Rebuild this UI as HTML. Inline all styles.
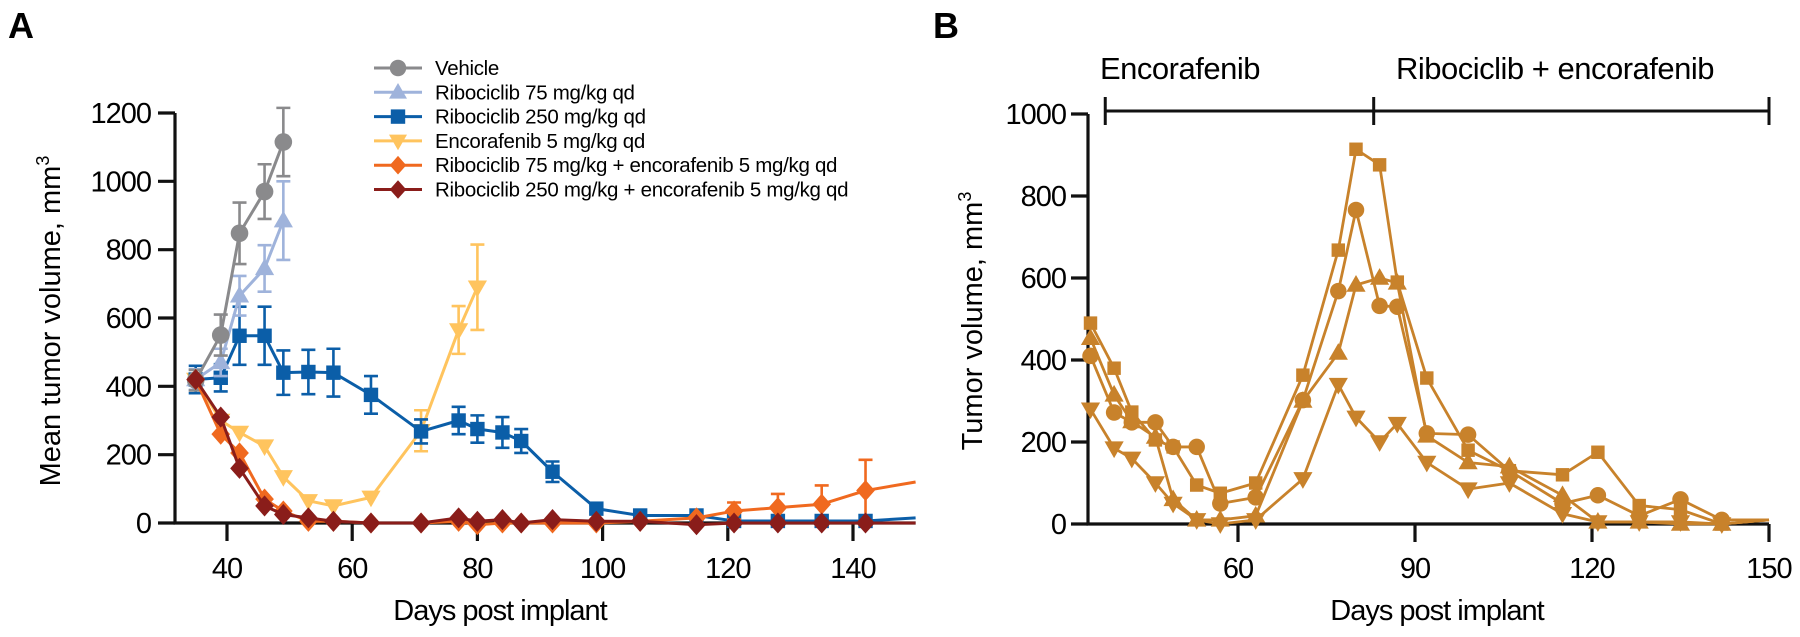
<!DOCTYPE html>
<html><head><meta charset="utf-8"><style>
html,body{margin:0;padding:0;background:#fff;}
svg{display:block;font-family:"Liberation Sans",sans-serif;}
</style></head><body>
<svg id="c" width="1800" height="637" viewBox="0 0 1800 637" xmlns="http://www.w3.org/2000/svg"></svg>
<script>
// Panel A data
const daysA = [35,39,42,46,49,53,57,63,71,77,80,84,87,92,99,106,115,121,128,135,142,150];
const vehicleDays = [35,39,42,46,49];
const vehicleVals = [418,550,848,970,1115];
const vehicleErr = [30,60,90,80,100];
const ribo75Days = [35,39,42,46,49];
const ribo75Vals = [420,470,665,745,885];
const ribo75Err = [30,40,58,68,115];
const ribo250Days = [35,39,42,46,49,53,57,63,71,77,80,84,87,92,99,106,115,121,128,135,142,150];
const ribo250Vals = [420,425,548,548,440,442,440,375,268,300,275,265,240,150,42,22,22,6,6,6,6,15];
const ribo250Err = [40,40,85,85,65,65,70,55,35,40,40,45,35,30,10,0,0,0,0,0,0,0];
const encoDays = [35,39,42,46,49,53,57,63,71,77,80];
const encoVals = [420,300,265,225,135,65,50,75,270,565,690];
const encoErr = [0,0,0,0,0,0,0,0,60,70,125];
const comboLowDays = daysA;
const comboLowVals = [420,260,205,70,35,5,5,0,0,5,-5,0,0,0,0,5,15,35,45,55,95,120];
const comboLowErr = [0,0,0,0,0,0,0,0,0,0,0,0,0,0,0,0,0,25,40,55,90,0];
const comboHighDays = daysA;
const comboHighVals = [420,310,160,50,25,15,5,0,0,15,5,10,0,10,5,5,-5,0,0,0,0,0];
const yTicksA = [0,200,400,600,800,1000,1200];
const xTicksA = [40,60,80,100,120,140];
const legendLabels = ["Vehicle","Ribociclib 75 mg/kg qd","Ribociclib 250 mg/kg qd","Encorafenib 5 mg/kg qd","Ribociclib 75 mg/kg + encorafenib 5 mg/kg qd","Ribociclib 250 mg/kg + encorafenib 5 mg/kg qd"];
// Panel B data
const daysB = [35,39,42,46,49,53,57,63,71,77,80,84,87,92,99,106,115,121,128,135,142,150];
const mouseCircle = [410,272,248,248,188,188,50,65,302,568,766,532,530,221,218,130,50,70,20,60,10,10];
const mouseSquare = [490,380,273,205,188,95,75,100,363,668,914,876,590,356,180,130,120,175,45,35,0,10];
const mouseTriangle = [453,315,250,212,60,10,10,20,300,417,583,600,588,215,150,140,70,5,5,0,0,10];
const mouseDown = [280,185,160,100,50,10,0,10,110,340,260,200,245,150,85,100,25,5,5,5,0,10];
const yTicksB = [0,200,400,600,800,1000];
const xTicksB = [60,90,120,150];
const phaseLabels = ["Encorafenib","Ribociclib + encorafenib"];
const phaseDays = [37.5,83,150];

const svg = document.getElementById('c');
const NS = 'http://www.w3.org/2000/svg';
function mk(tag, attrs, parent){const e=document.createElementNS(NS,tag);for(const k in attrs)e.setAttribute(k,attrs[k]);(parent||svg).appendChild(e);return e;}

const xA = d => 227 + (d-40)*6.26;
const yA = v => 523 - v*(410/1200);
const xB = d => 1238 + (d-60)*5.9;
const yB = v => 524 - v*0.41;

function marker(g, shape, x, y, color, s){
  let e;
  if(shape==='circle'){e=mk('circle',{cx:x,cy:y,r:s*0.55,fill:color},g);}
  else if(shape==='square'){e=mk('rect',{x:x-s*0.48,y:y-s*0.48,width:s*0.96,height:s*0.96,fill:color},g);}
  else if(shape==='tri'){e=mk('polygon',{points:`${x},${y-s*0.62} ${x-s*0.6},${y+s*0.42} ${x+s*0.6},${y+s*0.42}`,fill:color},g);}
  else if(shape==='down'){e=mk('polygon',{points:`${x},${y+s*0.62} ${x-s*0.6},${y-s*0.42} ${x+s*0.6},${y-s*0.42}`,fill:color},g);}
  else {e=mk('polygon',{points:`${x},${y-s*0.62} ${x+s*0.55},${y} ${x},${y+s*0.62} ${x-s*0.55},${y}`,fill:color},g);}
  
  
}
function series(name, days, vals, errs, xs, ys, color, shape, size, lw){
  const g = mk('g',{});
  
  
  if(errs){
    days.forEach((d,i)=>{ if(errs[i]>0){
      const x=xs(d), y1=ys(vals[i]-errs[i]), y2=ys(vals[i]+errs[i]);
      const eb=mk('path',{d:`M${x},${y1}V${y2}M${x-7},${y1}H${x+7}M${x-7},${y2}H${x+7}`,stroke:color,'stroke-width':2.6,fill:'none'},g);
      
      
    }});
  }
  const pts = days.map((d,i)=>xs(d)+','+ys(vals[i])).join(' ');
  mk('polyline',{points:pts,fill:'none',stroke:color,'stroke-width':lw,'stroke-linejoin':'round'},g);
  days.forEach((d,i)=>{ if(d<150) marker(g,shape,xs(d),ys(vals[i]),color,size); });
}
function txt(s, attrs, name){const t=mk('text',attrs);t.textContent=s;return t;}

txt('A',{x:8,y:38,'font-size':36,'font-weight':'bold'},'panel-label-a');
txt('B',{x:933,y:38,'font-size':36,'font-weight':'bold'},'panel-label-b');

const axA = mk('g',{stroke:'#111','stroke-width':3.2,fill:'none'});


mk('path',{d:`M175,${yA(1200)}V${yA(0)}H${xA(150)}`},axA);
yTicksA.forEach(v=>{
  mk('line',{x1:158,x2:175,y1:yA(v),y2:yA(v)},axA);
  txt(String(v),{x:151,y:yA(v)+10,'font-size':29,'text-anchor':'end','letter-spacing':-1},'y-tick-label-a');
});
xTicksA.forEach(d=>{
  mk('line',{x1:xA(d),x2:xA(d),y1:523,y2:541},axA);
  txt(String(d),{x:xA(d),y:578,'font-size':29,'text-anchor':'middle','letter-spacing':-1},'x-tick-label-a');
});
txt('Days post implant',{x:500,y:620,'font-size':29,'text-anchor':'middle','letter-spacing':-1},'x-axis-title-a');
const ytA = txt('',{transform:'translate(60,321) rotate(-90)','font-size':29,'text-anchor':'middle'},'y-axis-title-a');
ytA.innerHTML='Mean tumor volume, mm<tspan dy="-11" font-size="18">3</tspan>';

const cGray='#8a8a8c', cLB='#9fb3db', cBlue='#0b5ea8', cYel='#ffc45e', cOr='#f0691f', cDR='#8a1d1a';
series('series-encorafenib',encoDays,encoVals,encoErr,xA,yA,cYel,'down',16,3);
series('series-ribociclib-250',ribo250Days,ribo250Vals,ribo250Err,xA,yA,cBlue,'square',15,3);
series('series-ribociclib-75',ribo75Days,ribo75Vals,ribo75Err,xA,yA,cLB,'tri',16,3);
series('series-vehicle',vehicleDays,vehicleVals,vehicleErr,xA,yA,cGray,'circle',16,3);
series('series-combo-75',comboLowDays,comboLowVals,comboLowErr,xA,yA,cOr,'diamond',17,3);
series('series-combo-250',comboHighDays,comboHighVals,null,xA,yA,cDR,'diamond',17,3);

const legColors=[cGray,cLB,cBlue,cYel,cOr,cDR];
const legShapes=['circle','tri','square','down','diamond','diamond'];
legendLabels.forEach((l,i)=>{
  const y=68+i*24.3;
  const g=mk('g',{});
  
  
  mk('line',{x1:374,x2:422,y1:y,y2:y,stroke:legColors[i],'stroke-width':3},g);
  marker(g,legShapes[i],398,y,legColors[i],15);
  const t=mk('text',{x:435,y:y+7,'font-size':20.5,'letter-spacing':-0.3},g);t.textContent=l;
});

const axB = mk('g',{stroke:'#111','stroke-width':3.2,fill:'none'});


mk('path',{d:`M1088,${yB(1000)}V${yB(0)}H${xB(150)}`},axB);
yTicksB.forEach(v=>{
  mk('line',{x1:1071,x2:1088,y1:yB(v),y2:yB(v)},axB);
  txt(String(v),{x:1066,y:yB(v)+10,'font-size':29,'text-anchor':'end','letter-spacing':-1},'y-tick-label-b');
});
xTicksB.forEach(d=>{
  mk('line',{x1:xB(d),x2:xB(d),y1:524,y2:542},axB);
  txt(String(d),{x:xB(d),y:578,'font-size':29,'text-anchor':'middle','letter-spacing':-1},'x-tick-label-b');
});
txt('Days post implant',{x:1437,y:620,'font-size':29,'text-anchor':'middle','letter-spacing':-1},'x-axis-title-b');
const ytB = txt('',{transform:'translate(982,321) rotate(-90)','font-size':29,'text-anchor':'middle'},'y-axis-title-b');
ytB.innerHTML='Tumor volume, mm<tspan dy="-11" font-size="18">3</tspan>';

const br = mk('g',{stroke:'#111','stroke-width':3,fill:'none'});


mk('line',{x1:xB(phaseDays[0]),x2:xB(phaseDays[2]),y1:111,y2:111},br);
phaseDays.forEach(d=>mk('line',{x1:xB(d),x2:xB(d),y1:97,y2:125},br));
txt(phaseLabels[0],{x:1100,y:79,'font-size':31,'letter-spacing':-0.5},'phase-label-encorafenib');
txt(phaseLabels[1],{x:1396,y:79,'font-size':31,'letter-spacing':-0.5},'phase-label-combo');

const cB='#c8822b';
series('mouse-circle',daysB,mouseCircle,null,xB,yB,cB,'circle',15,2.8);
series('mouse-square',daysB,mouseSquare,null,xB,yB,cB,'square',14,2.8);
series('mouse-triangle',daysB,mouseTriangle,null,xB,yB,cB,'tri',16,2.8);
series('mouse-down-triangle',daysB,mouseDown,null,xB,yB,cB,'down',16,2.8);
</script>
</body></html>
